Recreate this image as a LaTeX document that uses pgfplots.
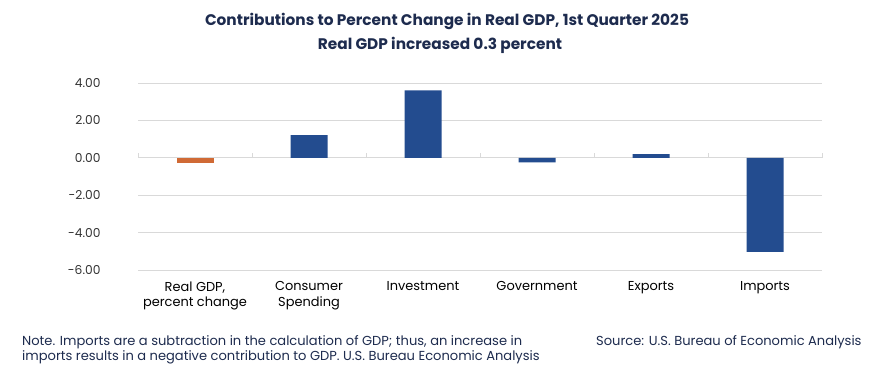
\documentclass[border=0pt]{standalone}
\usepackage{fontspec}
\setmainfont{Poppins}
\usepackage{pgfplots}
\pgfplotsset{compat=1.18}
\definecolor{barblue}{HTML}{234C8F}
\definecolor{barorange}{HTML}{D06A35}
\definecolor{titlecol}{HTML}{1D2B4E}
\definecolor{gridgray}{HTML}{D9D9D9}
\definecolor{ticktext}{HTML}{333333}
\begin{document}
\begin{tikzpicture}[x=1bp,y=1bp]
\path[use as bounding box] (0,0) rectangle (882,379);
\node[font=\bfseries\fontsize{15.4}{18}\selectfont, text=titlecol] at (447,358) {Contributions to Percent Change in Real GDP, 1st Quarter 2025};
\node[font=\bfseries\fontsize{15.4}{18}\selectfont, text=titlecol] at (440,334) {Real GDP increased 0.3 percent};
\begin{axis}[
  at={(138bp,109bp)}, anchor=south west,
  width=684bp, height=187bp, scale only axis,
  xmin=-0.5, xmax=5.5, ymin=-6, ymax=4,
  ytick={-6,-4,-2,0,2,4},
  xtick={0,1,2,3,4,5},
  xticklabels={{Real GDP,\\percent change},{Consumer\\Spending},Investment,Government,Exports,Imports},
  xticklabel style={align=center, font=\fontsize{13}{15.5}\selectfont, text=black, yshift=-8bp},
  yticklabel style={font=\fontsize{12.3}{14}\selectfont, text=ticktext, xshift=-34bp,
    /pgf/number format/.cd, fixed, fixed zerofill, precision=2, assume math mode=true},
  ymajorgrids, grid style={gridgray, line width=0.8pt},
  axis line style={draw=none},
  major tick length=0pt,
  clip=false,
]
\draw[gridgray, line width=0.8pt] (axis cs:-0.5,0) -- (axis cs:5.5,0);
\pgfplotsinvokeforeach{-0.5,0.5,1.5,2.5,3.5,4.5,5.5}{
  \draw[gridgray, line width=0.8pt] (axis cs:#1,0) -- ([yshift=5bp]axis cs:#1,0);
}
\addplot[ybar, bar width=37bp, bar shift=0pt, fill=barorange, draw=none] coordinates {(0,-0.30)};
\addplot[ybar, bar width=37bp, bar shift=0pt, fill=barblue, draw=none] coordinates {(1,1.21) (2,3.60) (3,-0.25) (4,0.19) (5,-5.03)};
\end{axis}
\node[anchor=west, font=\fontsize{13.1}{15}\selectfont, text=titlecol, inner sep=0pt] at (22,37) {Note. Imports are a subtraction in the calculation of GDP; thus, an increase in};
\node[anchor=west, font=\fontsize{13.1}{15}\selectfont, text=titlecol, inner sep=0pt] at (22,22) {imports results in a negative contribution to GDP. U.S. Bureau Economic Analysis};
\node[anchor=west, font=\fontsize{13.1}{15}\selectfont, text=titlecol, inner sep=0pt] at (596,37) {Source: U.S. Bureau of Economic Analysis};
\end{tikzpicture}
\end{document}
